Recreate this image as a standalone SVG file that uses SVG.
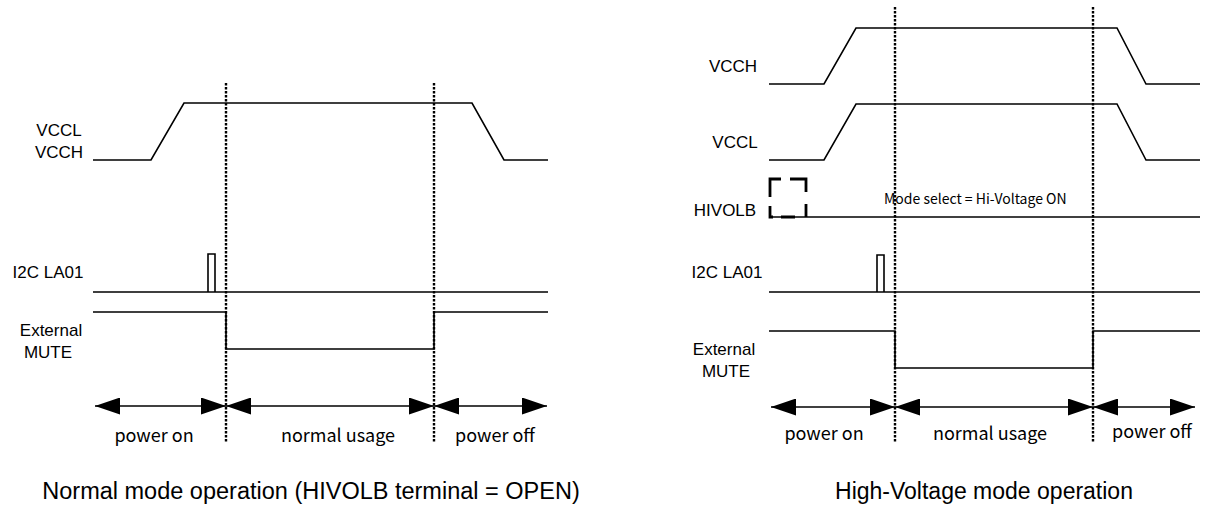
<svg xmlns="http://www.w3.org/2000/svg" width="1232" height="506" viewBox="0 0 1232 506">
  <style>
    .sig { fill: none; stroke: #000; stroke-width: 1.6; }
    .dot { fill: none; stroke: #000; stroke-width: 2.4; stroke-dasharray: 2.5 1.5; }
    .arr { fill: none; stroke: #000; stroke-width: 1.6; marker-start: url(#ah); marker-end: url(#ah); }
    .lbl { font-family: "Liberation Sans", Arial, sans-serif; font-size: 17px; fill: #000; text-anchor: middle; }
    .ph { font-family: "Noto Sans CJK JP", "DejaVu Sans", sans-serif; font-size: 18px; fill: #000; text-anchor: middle; }
    .mode { font-family: "Noto Sans CJK JP", "DejaVu Sans", sans-serif; font-size: 14px; fill: #000; }
    .ttl { font-family: "Liberation Sans", Arial, sans-serif; fill: #000; text-anchor: middle; }
    .hv { fill: none; stroke: #000; stroke-width: 2.8; }
  </style>
  <defs>
    <marker id="ah" viewBox="0 0 25 17" markerUnits="userSpaceOnUse" markerWidth="25" markerHeight="17" refX="25" refY="8.5" orient="auto-start-reverse">
      <path d="M0,0 L25,8.5 L0,17 Z" fill="#000"/>
    </marker>
  </defs>
  <rect width="1232" height="506" fill="#fff"/>

  <!-- Left panel: Normal mode -->
  <g id="left-labels">
    <text class="lbl" x="59" y="136">VCCL</text>
    <text class="lbl" x="59" y="158">VCCH</text>
    <text class="lbl" x="48" y="278">I2C LA01</text>
    <text class="lbl" x="51" y="336">External</text>
    <text class="lbl" x="48" y="358">MUTE</text>
  </g>
  <g id="left-vcc"><path class="sig" d="M93,160 H151 L184,103 H472 L504,160 H548"/></g>
  <g id="left-i2c"><path class="sig" d="M93,292 H548 M208,292 V254 H215 V292"/></g>
  <g id="left-mute"><path class="sig" d="M93,312 H226 V349 H434 V312 H548"/></g>
  <g id="left-connectors">
    <line class="dot" x1="226" y1="83" x2="226" y2="443"/>
    <line class="dot" x1="434" y1="83" x2="434" y2="443"/>
    <line class="arr" x1="95" y1="406" x2="226" y2="406"/>
    <line class="arr" x1="226" y1="406" x2="434" y2="406"/>
    <line class="arr" x1="434" y1="406" x2="547" y2="406"/>
  </g>
  <g id="left-phases">
    <text class="ph" x="154" y="442">power on</text>
    <text class="ph" x="338" y="442">normal usage</text>
    <text class="ph" x="495" y="442">power off</text>
  </g>
  <g id="left-title"><text class="ttl" x="311" y="499" font-size="23.5">Normal mode operation (HIVOLB terminal = OPEN)</text></g>

  <!-- Right panel: High-Voltage mode -->
  <g id="right-labels">
    <text class="lbl" x="733" y="72">VCCH</text>
    <text class="lbl" x="735" y="148">VCCL</text>
    <text class="lbl" x="725" y="216">HIVOLB</text>
    <text class="lbl" x="727" y="278">I2C LA01</text>
    <text class="lbl" x="724" y="355">External</text>
    <text class="lbl" x="726" y="377">MUTE</text>
  </g>
  <g id="right-vcch"><path class="sig" d="M769,84 H824 L856,28 H1117 L1146,84 H1200"/></g>
  <g id="right-vccl"><path class="sig" d="M769,160 H824 L856,104 H1117 L1146,160 H1200"/></g>
  <g id="right-hivolb">
    <path class="hv" d="M770,197 V179 H781 M790,179 H806 V192 M806,204 V217 M781,217 H795 M770,206 V217 H773"/>
    <path class="sig" d="M770,217 H1200"/>
    <text class="mode" x="884" y="204">Mode select = Hi-Voltage ON</text>
  </g>
  <g id="right-i2c"><path class="sig" d="M769,292 H1200 M877,292 V255 H884 V292"/></g>
  <g id="right-mute"><path class="sig" d="M769,331 H895 V368 H1093 V331 H1200"/></g>
  <g id="right-connectors">
    <line class="dot" x1="895" y1="7" x2="895" y2="442"/>
    <line class="dot" x1="1093" y1="7" x2="1093" y2="442"/>
    <line class="arr" x1="771" y1="407" x2="895" y2="407"/>
    <line class="arr" x1="895" y1="407" x2="1093" y2="407"/>
    <line class="arr" x1="1093" y1="407" x2="1195" y2="407"/>
  </g>
  <g id="right-phases">
    <text class="ph" x="824" y="440">power on</text>
    <text class="ph" x="990" y="440">normal usage</text>
    <text class="ph" x="1152" y="438">power off</text>
  </g>
  <g id="right-title"><text class="ttl" x="984" y="499" font-size="23">High-Voltage mode operation</text></g>
</svg>
